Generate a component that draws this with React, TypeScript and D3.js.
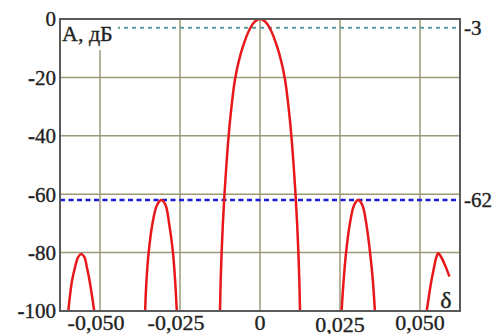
import React from "react";
import * as d3 from "d3";

// axis ticks
const xTicks = [-0.05, -0.025, 0, 0.025, 0.05];
const xTickLabels = ["-0,050", "-0,025", "0", "0,025", "0,050"];
const yTicks = [0, -20, -40, -60, -80, -100];

// reference levels (dB)
const refLevels = [-3, -62];
const refLabels = ["-3", "-62"];

// pattern lobes, [delta, dB]
const mainLobe: [number, number][] = [
  [-0.0125, -100], [-0.0123, -90], [-0.012, -80], [-0.0116, -70], [-0.0111, -60],
  [-0.0105, -50], [-0.0098, -40], [-0.0089, -30], [-0.0077, -20], [-0.0055, -10],
  [-0.003, -3], [-0.0015, -0.75], [0, 0], [0.0015, -0.75], [0.003, -3],
  [0.0055, -10], [0.0077, -20], [0.0089, -30], [0.0098, -40], [0.0105, -50],
  [0.0111, -60], [0.0116, -70], [0.012, -80], [0.0123, -90], [0.0125, -100],
];
const sideLeft: [number, number][] = [
  [-0.0359, -100], [-0.0355, -90], [-0.0348, -80], [-0.0336, -70], [-0.0322, -63.8],
  [-0.0308, -62], [-0.0295, -63.8], [-0.0284, -70], [-0.0272, -80], [-0.0265, -90], [-0.026, -100],
];
const sideRight: [number, number][] = [
  [0.0255, -100], [0.0261, -90], [0.0269, -80], [0.0281, -70], [0.0294, -63.8],
  [0.0307, -62], [0.032, -63.8], [0.0332, -70], [0.0344, -80], [0.0353, -90], [0.0359, -100],
];
const farLeft: [number, number][] = [
  [-0.0599, -100], [-0.0588, -90], [-0.0578, -85], [-0.0568, -81.5], [-0.0559, -80.5],
  [-0.0549, -81.5], [-0.0541, -85], [-0.0532, -90], [-0.0518, -100],
];
const farRight: [number, number][] = [
  [0.0521, -100], [0.0535, -90], [0.0544, -85], [0.055, -82], [0.0557, -80.2],
  [0.0566, -81.5], [0.058, -84.8], [0.0592, -88.2],
];
const lobes = [farLeft, sideLeft, mainLobe, sideRight, farRight];

const W = 498;
const H = 334;
const margin = { top: 19, right: 38, bottom: 23, left: 60 };
const font = "'Liberation Serif', 'Times New Roman', serif";

export default function App() {
  const x = d3.scaleLinear().domain([-0.0625, 0.0625]).range([margin.left, W - margin.right]);
  const y = d3.scaleLinear().domain([-100, 0]).range([H - margin.bottom, margin.top]);
  const line = d3
    .line<[number, number]>()
    .x((d) => x(d[0]))
    .y((d) => y(d[1]))
    .curve(d3.curveCatmullRom.alpha(0.5));

  const gridColor = "#9a9a78";
  // slight stroke to mimic the heavier look of the original text
  const txt = { fontFamily: font, fill: "#222", stroke: "#222", strokeWidth: 0.35 };

  return (
    <svg
      width={W}
      height={H}
      style={{ position: "absolute", left: 0, top: 0, background: "#fff" }}
    >
      <defs>
        <clipPath id="plot">
          <rect x={x(-0.0625)} y={y(0)} width={x(0.0625) - x(-0.0625)} height={y(-100) - y(0)} />
        </clipPath>
      </defs>

      {/* grid */}
      {xTicks.map((t) => (
        <line key={"gx" + t} x1={x(t)} x2={x(t)} y1={y(0)} y2={y(-100)} stroke={gridColor} strokeWidth={1.5} />
      ))}
      {yTicks.map((t) => (
        <line key={"gy" + t} x1={x(-0.0625)} x2={x(0.0625)} y1={y(t)} y2={y(t)} stroke={gridColor} strokeWidth={1.5} />
      ))}

      {/* reference levels */}
      <line x1={x(-0.0625)} x2={x(0.0625)} y1={y(refLevels[0])} y2={y(refLevels[0])}
        stroke="#5a9a9a" strokeWidth={2} strokeDasharray="4,4" />
      <line x1={x(-0.0625)} x2={x(0.0625)} y1={y(refLevels[1])} y2={y(refLevels[1])}
        stroke="#1a1ad8" strokeWidth={2.5} strokeDasharray="5,3.5" />

      {/* axis title with white box */}
      <rect x={x(-0.0625) + 1} y={y(0) + 1} width={57} height={30} fill="#fff" />
      <text x={x(-0.0625) + 2} y={y(0) + 22} fontSize={22} style={txt}>A, дБ</text>

      {/* curves */}
      <g clipPath="url(#plot)">
        {lobes.map((l, i) => (
          <path key={i} d={line(l) ?? ""} fill="none" stroke="#e8171a" strokeWidth={2.5} />
        ))}
      </g>

      {/* frame */}
      <rect x={x(-0.0625)} y={y(0)} width={x(0.0625) - x(-0.0625)} height={y(-100) - y(0)}
        fill="none" stroke="#5a5a5a" strokeWidth={2} />

      {/* y tick labels */}
      {yTicks.map((t) => (
        <text key={"ly" + t} x={margin.left - 4} y={y(t)} dy="0.35em" textAnchor="end" fontSize={21} style={txt}>
          {t < 0 ? <><tspan fontWeight="bold">-</tspan>{String(-t)}</> : "0"}
        </text>
      ))}

      {/* x tick labels */}
      {xTicks.map((t, i) => (
        <text key={"lx" + t} x={x(t) - (t < 0 ? 4 : 0)} y={t === 0.025 ? 332 : 330} textAnchor="middle" fontSize={22} style={txt}>
          {xTickLabels[i]}
        </text>
      ))}

      {/* ref labels */}
      {refLevels.map((r, i) => (
        <text key={"lr" + r} x={x(0.0625) + 4} y={y(r)} dy="0.35em" fontSize={21} style={txt}>
          {refLabels[i]}
        </text>
      ))}

      <text x={446} y={308} textAnchor="middle" fontSize={24} style={txt}>δ</text>
    </svg>
  );
}
